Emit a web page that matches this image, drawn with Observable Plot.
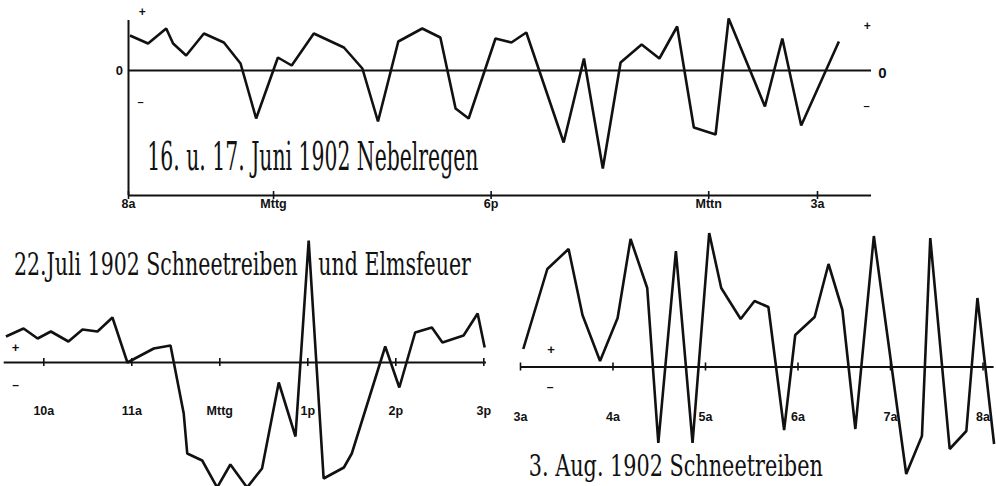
<!DOCTYPE html>
<html><head><meta charset="utf-8">
<script src="https://cdn.jsdelivr.net/npm/d3@7"></script>
<script src="https://cdn.jsdelivr.net/npm/@observablehq/plot@0.6"></script>
<style>
html,body{margin:0;padding:0;background:#fff;}
#chart{position:relative;width:996px;height:486px;overflow:hidden;background:#fff;}
#chart svg{position:absolute;left:0;top:0;}
</style></head><body><div id="chart"></div>
<script>
// ---- 16. u. 17. Juni 1902 (hours since midnight of 16th) ----
const juniHours = [8.04, 8.54, 9.04, 9.23, 9.59, 10.08, 10.63, 11.09, 11.52, 12.12, 12.50, 13.11, 13.94, 14.45, 14.88, 15.44, 16.10, 16.60, 17.02, 17.38, 18.12, 18.56, 18.97, 20.00, 20.56, 21.08, 21.57, 22.15, 22.64, 23.13, 23.59, 24.19, 24.55, 25.55, 26.03, 26.55, 27.59];
const juniValues = [35, 27, 42, 27, 15, 37, 28, 7, -48, 13, 5, 37, 23, 2, -51, 29, 42, 33, -38, -48, 32, 28, 38, -72, 12, -98, 8, 26, 12, 44, -57, -64, 52, -36, 32, -55, 29];
const juniTickHours = [8, 12, 18, 24, 27];
const juniTickLabels = ["8a", "Mttg", "6p", "Mttn", "3a"];
const juniTitle = ["16. u. 17. Juni 1902 Nebelregen"];

// ---- 22. Juli 1902 ----
const juliHours = [9.57, 9.77, 9.93, 10.08, 10.28, 10.44, 10.61, 10.78, 10.95, 11.25, 11.44, 11.59, 11.63, 11.80, 11.97, 12.12, 12.31, 12.48, 12.67, 12.86, 13.01, 13.18, 13.41, 13.50, 13.88, 14.04, 14.22, 14.41, 14.53, 14.77, 14.93, 15.01];
const juliValues = [26, 34, 24, 31, 21, 33, 31, 45, 0, 14, 17, -51, -91, -98, -125, -102, -125, -106, -20, -74, 122, -116, -105, -91, 16, -25, 30, 35, 20, 27, 49, 15];
const juliTickHours = [10, 11, 12, 13, 14, 15];
const juliTickLabels = ["10a", "11a", "Mttg", "1p", "2p", "3p"];
const juliTitle = ["22.Juli 1902 Schneetreiben\u2003und Elmsfeuer"];

// ---- 3. Aug. 1902 ----
const augHours = [3.03, 3.29, 3.52, 3.67, 3.86, 4.05, 4.19, 4.37, 4.49, 4.68, 4.86, 5.04, 5.17, 5.38, 5.53, 5.68, 5.85, 5.97, 6.18, 6.33, 6.48, 6.62, 6.82, 7.17, 7.34, 7.43, 7.64, 7.82, 7.94, 8.12];
const augValues = [18, 98, 118, 52, 6, 49, 128, 79, -76, 116, -76, 134, 79, 48, 66, 60, -63, 32, 50, 103, 57, -62, 131, -107, -69, 129, -82, -64, 69, -77];
const augTickHours = [3, 4, 5, 6, 7, 8];
const augTickLabels = ["3a", "4a", "5a", "6a", "7a", "8a"];
const augTitle = ["3. Aug. 1902 Schneetreiben"];

const INK = "#111";
const LABEL_FONT = "Liberation Sans, Arial, sans-serif";
const TITLE_FONT = "DejaVu Serif Condensed, DejaVu Serif, serif";

const panels = [
  {
    hours: juniHours, values: juniValues, tickHours: juniTickHours, tickLabels: juniTickLabels, titles: juniTitle,
    x: {domain: [8, 27], range: [128, 817]},
    y: {domain: [-125, 50], range: [195, 20]},
    zeroSpan: [8, 28.49], labelY: -125, labelDy: 8, frame: true,
    titlePos: [{h: 8.52, v: -99.5, w: 331, size: 40}],
    signs: [
      {t: "+", h: 8.38, v: 58, s: 12}, {t: "0", h: 7.75, v: 0, s: 13}, {t: "–", h: 8.33, v: -32, s: 11},
      {t: "+", h: 28.37, v: 44, s: 12}, {t: "0", h: 28.79, v: -3, s: 15}, {t: "–", h: 28.35, v: -36, s: 11}
    ]
  },
  {
    hours: juliHours, values: juliValues, tickHours: juliTickHours, tickLabels: juliTickLabels, titles: juliTitle,
    x: {domain: [10, 15], range: [43.3, 483.3]},
    y: {domain: [-100, 100], range: [462, 262]},
    zeroSpan: [9.55, 15.03], labelY: 0, labelDy: 48, frame: false,
    titlePos: [{h: 9.66, v: 87.5, w: 457, size: 32}],
    signs: [{t: "+", h: 9.68, v: 15, s: 13}, {t: "–", h: 9.68, v: -23, s: 12}]
  },
  {
    hours: augHours, values: augValues, tickHours: augTickHours, tickLabels: augTickLabels, titles: augTitle,
    x: {domain: [3, 8], range: [520, 982.5]},
    y: {domain: [-100, 100], range: [466.5, 266.5]},
    zeroSpan: [3, 8.12], labelY: 0, labelDy: 50, frame: false,
    titlePos: [{h: 3.09, v: -108.5, w: 294, size: 30}],
    signs: [{t: "+", h: 3.33, v: 17, s: 13}, {t: "–", h: 3.32, v: -20, s: 12}]
  }
];

const chart = document.getElementById("chart");

for (const p of panels) {
  const rows = p.hours.map((h, i) => ({h, v: p.values[i]}));
  const ticks = p.tickHours.map((h, i) => ({h, label: p.tickLabels[i]}));
  const titles = p.titles.map((t, i) => ({t, h: p.titlePos[i].h, v: p.titlePos[i].v, size: p.titlePos[i].size}));
  const marks = [
    Plot.ruleY([0], {x1: p.zeroSpan[0], x2: p.zeroSpan[1], stroke: INK, strokeWidth: 2})
  ];
  if (p.frame) {
    marks.push(
      Plot.ruleX([p.zeroSpan[0]], {y1: p.y.domain[0], y2: p.y.domain[1], stroke: INK, strokeWidth: 2}),
      Plot.ruleY([p.labelY], {x1: p.zeroSpan[0], x2: p.zeroSpan[1], stroke: INK, strokeWidth: 2.2})
    );
  }
  marks.push(
    Plot.ruleX(ticks, {x: "h", y1: p.labelY - 4, y2: p.labelY + 4, stroke: INK, strokeWidth: 1.6}),
    Plot.text(ticks, {x: "h", y: p.labelY, dy: p.labelDy, text: "label", fontFamily: LABEL_FONT, fontWeight: "bold", fontSize: 12.5, fill: INK}),
    Plot.text(p.signs, {x: "h", y: "v", text: "t", fontSize: "s", fontFamily: LABEL_FONT, fontWeight: "bold", fill: INK}),
    Plot.line(rows, {x: "h", y: "v", stroke: INK, strokeWidth: 2.6, strokeLinejoin: "miter", strokeLinecap: "butt"}),
    Plot.text(titles, {x: "h", y: "v", text: "t", fontSize: "size", textAnchor: "start", lineAnchor: "bottom", fontFamily: TITLE_FONT, fill: INK})
  );
  const svg = Plot.plot({
    width: 996, height: 486, margin: 0,
    style: {background: "transparent", overflow: "hidden"},
    x: {domain: p.x.domain, range: p.x.range, axis: null},
    y: {domain: p.y.domain, range: p.y.range, axis: null},
    marks
  });
  svg.querySelectorAll("text").forEach((el) => {
    const i = p.titles.indexOf(el.textContent);
    if (i >= 0) {
      el.setAttribute("textLength", p.titlePos[i].w);
      el.setAttribute("lengthAdjust", "spacingAndGlyphs");
    }
  });
  chart.appendChild(svg);
}
</script></body></html>
